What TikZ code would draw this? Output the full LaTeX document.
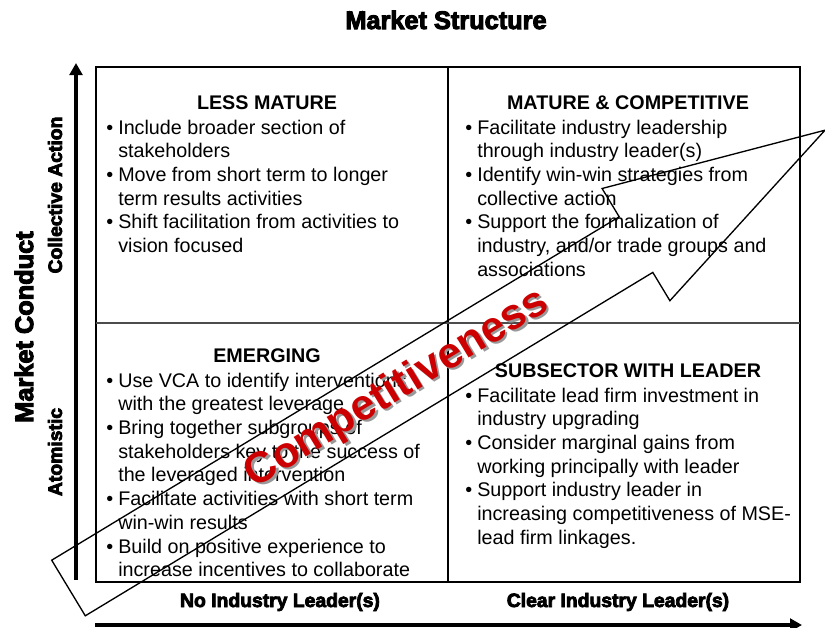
\documentclass[tikz,border=0pt]{standalone}
\usepackage{fontspec}
\setmainfont{Liberation Sans}
\newfontfamily\heavyfont[FakeBold=4]{Liberation Sans Bold}
\usetikzlibrary{arrows.meta}
\definecolor{compred}{RGB}{204,0,0}
\newcommand{\bodyfont}{\fontsize{14.8}{17.8}\selectfont}
\newcommand{\bul}{\makebox[9pt][l]{\textbullet}}
\newcommand{\ind}{\hspace*{9pt}}
\tikzset{
    cell/.style={inner sep=0pt, anchor=base west, font=\bodyfont},
    head/.style={inner sep=0pt, anchor=base, font=\bodyfont\bfseries},
    axislabel/.style={inner sep=0pt, font=\heavyfont\fontsize{14.5}{16}\selectfont},
    axisarrow/.style={line width=3pt, -{Triangle[length=9pt,width=9.5pt]}}
}

\begin{document}
\begin{tikzpicture}[x=0.75pt,y=-0.75pt]
        \useasboundingbox (0,0) rectangle (825,628);

        % Grid of the four cells
        \draw[line width=2.2pt] (96,67) rectangle (800,582);
        \draw[line width=1.6pt] (448,67) -- (448,582);
        \draw[line width=1pt, black!70] (96,323) -- (800,323);

        % Axes
        \coordinate (ybot) at (76,580);
        \coordinate (ytop) at (76,63);
        \coordinate (xleft) at (95,625);
        \coordinate (xright) at (802,625);
        \draw[axisarrow] (ybot) -- (ytop);
        \draw[axisarrow] (xleft) -- (xright);

        % Axis labels
        \node[axislabel, anchor=base, font=\heavyfont\fontsize{19}{21}\selectfont] (structure) at (446,29) {Market Structure};
        \node[axislabel, rotate=90, font=\heavyfont\fontsize{19}{21}\selectfont] (conduct) at (24,327) {Market Conduct};
        \node[axislabel, rotate=90] (collective) at (55,195) {Collective Action};
        \node[axislabel, rotate=90] (atomistic) at (55,452) {Atomistic};
        \node[axislabel, anchor=base] (noleader) at (280,607) {No Industry Leader(s)};
        \node[axislabel, anchor=base] (clearleader) at (618,607) {Clear Industry Leader(s)};

        % Less mature
        \node[head] (lesshead) at (267,109) {LESS MATURE};
        \node[cell] (lesslist) at (106,134) {\begin{tabular}[t]{@{}l@{}}
            \bul Include broader section of\\
            \ind stakeholders\\
            \bul Move from short term to longer\\
            \ind term results activities\\
            \bul Shift facilitation from activities to\\
            \ind vision focused
        \end{tabular}};

        % Mature and competitive
        \node[head] (maturehead) at (628,109) {MATURE \& COMPETITIVE};
        \node[cell] (maturelist) at (465,134) {\begin{tabular}[t]{@{}l@{}}
            \bul Facilitate industry leadership\\
            \ind through industry leader(s)\\
            \bul Identify win-win strategies from\\
            \ind collective action\\
            \bul Support the formalization of\\
            \ind industry, and/or trade groups and\\
            \ind associations
        \end{tabular}};

        % Emerging
        \node[head] (emerghead) at (267,362) {EMERGING};
        \node[cell] (emerglist) at (106,387) {\begin{tabular}[t]{@{}l@{}}
            \bul Use VCA to identify interventions\\
            \ind with the greatest leverage\\
            \bul Bring together subgroups of\\
            \ind stakeholders key to the success of\\
            \ind the leveraged intervention\\
            \bul Facilitate activities with short term\\
            \ind win-win results\\
            \bul Build on positive experience to\\
            \ind increase incentives to collaborate
        \end{tabular}};

        % Subsector with leader
        \node[head] (leaderhead) at (628,377) {SUBSECTOR WITH LEADER};
        \node[cell] (leaderlist) at (465,402) {\begin{tabular}[t]{@{}l@{}}
            \bul Facilitate lead firm investment in\\
            \ind industry upgrading\\
            \bul Consider marginal gains from\\
            \ind working principally with leader\\
            \bul Support industry leader in\\
            \ind increasing competitiveness of MSE-\\
            \ind lead firm linkages.
        \end{tabular}};

        % Competitiveness arrow
        \draw[line width=1pt, line join=miter] (51.7,560.2) -- (619.2,216.8) -- (602.1,188.5) -- (825,130.2)
            -- (669.9,300.7) -- (652.8,272.4) -- (85.3,615.8) -- cycle;
        \node[rotate=31.2, text=black!40, font=\bfseries\fontsize{32.5}{36}\selectfont] (compshadow) at (399.5,391) {Competitiveness};
        \node[rotate=31.2, text=compred, font=\bfseries\fontsize{32.5}{36}\selectfont] (comp) at (397,389) {Competitiveness};
    \end{tikzpicture}
\end{document}
